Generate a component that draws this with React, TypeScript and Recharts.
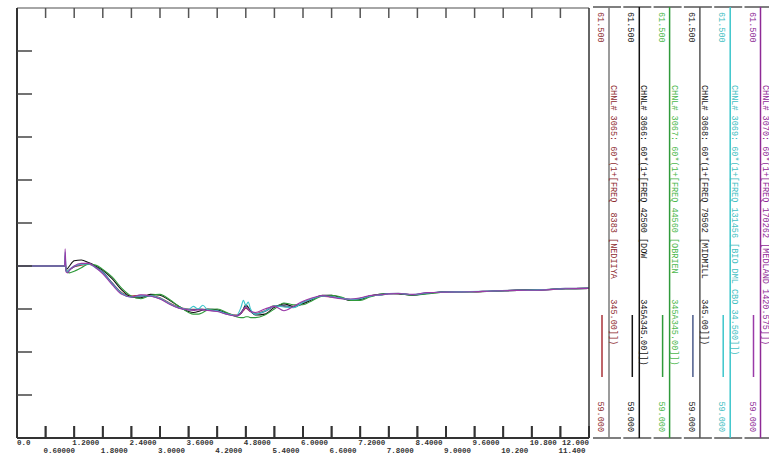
import React from 'react';
import { ComposedChart, Line, Scatter, XAxis, YAxis, ReferenceLine } from 'recharts';

// time (s)
const TIME = [
  0, 1.0, 1.01, 1.03, 1.06, 1.1,
  1.2, 1.35, 1.5, 1.65, 1.8,
  2.0, 2.2, 2.4, 2.6, 2.8,
  3.0, 3.2, 3.4, 3.6, 3.7,
  3.8, 3.9, 4.0, 4.2, 4.4,
  4.6, 4.7, 4.75, 4.8, 4.85,
  4.9, 5.0, 5.2, 5.4, 5.6,
  5.8, 6.0, 6.2, 6.4, 6.6,
  6.8, 7.0, 7.2, 7.4, 7.6,
  7.8, 8.0, 8.3, 8.6, 9.0,
  9.5, 10.0, 10.5, 11.0, 11.5,
  12.0,
];

// bus frequencies (Hz)
const CH3065 = [
  60.0, 60.0, 60.03, 59.975, 59.97, 59.98,
  59.995, 60.005, 60.01, 59.995, 59.96,
  59.9, 59.845, 59.825, 59.83, 59.83,
  59.815, 59.785, 59.76, 59.75, 59.748,
  59.748, 59.748, 59.745, 59.74, 59.725,
  59.715, 59.725, 59.74, 59.755, 59.745,
  59.735, 59.725, 59.74, 59.77, 59.765,
  59.76, 59.785, 59.81, 59.825, 59.82,
  59.815, 59.805, 59.81, 59.825, 59.83,
  59.838, 59.84, 59.833, 59.843, 59.848,
  59.85, 59.855, 59.858, 59.86, 59.868,
  59.87,
];
const CH3066 = [
  60.0, 60.0, 60.02, 59.98, 59.985, 60.0,
  60.03, 60.035, 60.02, 60.0, 59.975,
  59.925, 59.86, 59.82, 59.815, 59.835,
  59.83, 59.8, 59.765, 59.735, 59.73,
  59.735, 59.745, 59.75, 59.745, 59.725,
  59.71, 59.725, 59.75, 59.775, 59.76,
  59.74, 59.715, 59.72, 59.76, 59.78,
  59.765, 59.78, 59.805, 59.83, 59.83,
  59.815, 59.8, 59.805, 59.825, 59.835,
  59.84, 59.838, 59.83, 59.84, 59.85,
  59.85, 59.853, 59.86, 59.862, 59.868,
  59.87,
];
const CH3067 = [
  60.0, 60.0, 60.01, 59.975, 59.965, 59.96,
  59.97, 59.99, 60.01, 60.005, 59.98,
  59.935, 59.87, 59.825, 59.81, 59.83,
  59.835, 59.805, 59.765, 59.73, 59.72,
  59.72, 59.73, 59.745, 59.75, 59.73,
  59.705, 59.7, 59.7, 59.705, 59.705,
  59.7, 59.7, 59.715, 59.75, 59.785,
  59.775, 59.775, 59.8, 59.825, 59.83,
  59.82, 59.8, 59.8, 59.82, 59.835,
  59.84, 59.84, 59.83, 59.838, 59.848,
  59.85, 59.853, 59.858, 59.862, 59.868,
  59.87,
];
const CH3068 = [
  60.0, 60.0, 60.06, 59.97, 59.965, 59.975,
  59.995, 60.01, 60.015, 59.995, 59.965,
  59.9, 59.84, 59.82, 59.825, 59.825,
  59.81, 59.78, 59.755, 59.745, 59.745,
  59.75, 59.748, 59.743, 59.738, 59.72,
  59.71, 59.73, 59.75, 59.765, 59.75,
  59.735, 59.72, 59.735, 59.765, 59.77,
  59.76, 59.79, 59.81, 59.828, 59.822,
  59.812, 59.805, 59.812, 59.825, 59.832,
  59.84, 59.842, 59.832, 59.842, 59.85,
  59.85, 59.856, 59.86, 59.862, 59.87,
  59.872,
];
const CH3069 = [
  60.0, 60.0, 60.08, 59.97, 59.97, 59.98,
  60.0, 60.01, 60.012, 59.99, 59.96,
  59.895, 59.84, 59.82, 59.828, 59.828,
  59.812, 59.782, 59.758, 59.748, 59.765,
  59.75, 59.772, 59.745, 59.74, 59.722,
  59.712, 59.76, 59.8, 59.77, 59.79,
  59.75, 59.72, 59.738, 59.768, 59.762,
  59.758, 59.788, 59.81, 59.826, 59.82,
  59.814, 59.806, 59.81, 59.825, 59.83,
  59.838, 59.84, 59.834, 59.844, 59.848,
  59.851, 59.855, 59.858, 59.861, 59.868,
  59.87,
];
const CH3070 = [
  60.0, 60.0, 60.1, 59.965, 59.96, 59.975,
  60.0, 60.015, 60.015, 59.99, 59.955,
  59.89, 59.835, 59.82, 59.832, 59.826,
  59.808, 59.778, 59.755, 59.745, 59.742,
  59.745, 59.745, 59.742, 59.735, 59.72,
  59.71, 59.725, 59.745, 59.76, 59.748,
  59.735, 59.73, 59.75, 59.765, 59.74,
  59.765, 59.795, 59.815, 59.828, 59.818,
  59.81, 59.808, 59.815, 59.828, 59.832,
  59.838, 59.84, 59.835, 59.845, 59.848,
  59.85, 59.855, 59.858, 59.86, 59.868,
  59.87,
];

const X_TICKS = [0, 0.6, 1.2, 1.8, 2.4, 3.0, 3.6, 4.2, 4.8, 5.4, 6.0, 6.6, 7.2, 7.8, 8.4, 9.0, 9.6, 10.2, 10.8, 11.4, 12.0];
const X_LABELS = ['0.0', '0.60000', '1.2000', '1.8000', '2.4000', '3.0000', '3.6000', '4.2000', '4.8000', '5.4000', '6.0000', '6.6000', '7.2000', '7.8000', '8.4000', '9.0000', '9.6000', '10.200', '10.800', '11.400', '12.000'];
const Y_TICKS = [59.0, 59.25, 59.5, 59.75, 60.0, 60.25, 60.5, 60.75, 61.0, 61.25, 61.5];
const Y_MAX_LABEL = '61.500';
const Y_MIN_LABEL = '59.000';

const CHANNELS = [
  { key: 'c3065', values: CH3065, color: '#a83238', text: '#8e2b30', axis: '#7a7a7a', label: 'CHNL# 3065: 60*(1+[FREQ  8383 [NEDIIYA    345.00]])' },
  { key: 'c3066', values: CH3066, color: '#111111', text: '#111111', axis: '#111111', label: 'CHNL# 3066: 60*(1+[FREQ 42500 [DOW        345A345.00]])' },
  { key: 'c3067', values: CH3067, color: '#2f9a3a', text: '#4cb84c', axis: '#2f9a3a', label: 'CHNL# 3067: 60*(1+[FREQ 44560 [OBRIEN     345A345.00]])' },
  { key: 'c3068', values: CH3068, color: '#4a5a8a', text: '#222222', axis: '#555555', label: 'CHNL# 3068: 60*(1+[FREQ 79502 [MIDMILL    345.00]])' },
  { key: 'c3069', values: CH3069, color: '#3cc6cc', text: '#45c0c4', axis: '#3cc6cc', label: 'CHNL# 3069: 60*(1+[FREQ 131456 [BIO DML CBO 34.500]])' },
  { key: 'c3070', values: CH3070, color: '#9a3aa8', text: '#8e2a96', axis: '#8e2a96', label: 'CHNL# 3070: 60*(1+[FREQ 170262 [MEDLAND 1420.575]])' },
];

const rows = TIME.map((t, i) => {
  const row: Record<string, number> = { t };
  CHANNELS.forEach((c) => { row[c.key] = c.values[i]; });
  return row;
});

// tick marks on the bottom and top frame, placed at the x tick values
const INNER_X = X_TICKS.slice(1, -1);
const bottomMarks = INNER_X.map((t) => ({ t, f: Y_TICKS[0] }));
const topMarks = INNER_X.map((t) => ({ t, f: Y_TICKS[Y_TICKS.length - 1] }));

const MONO = '"Liberation Mono", "DejaVu Sans Mono", monospace';

// labels in two staggered rows under the inward tick marks
const BottomTick = (props: any) => {
  const { x, y, index } = props;
  const last = X_TICKS.length - 1;
  return (
    <text
      x={index === 0 ? x : index === last ? x : x - 2}
      y={index % 2 === 0 ? y + 7 : y + 15}
      textAnchor={index === last ? 'end' : 'start'}
      fontFamily={MONO}
      fontSize={7.5}
      fontWeight="bold"
      fill="#333"
    >
      {X_LABELS[index]}
    </text>
  );
};

const LeftTick = (props: any) => {
  const { x, y, index } = props;
  if (index === 0 || index === Y_TICKS.length - 1) return <g />;
  return <line x1={x} y1={y} x2={x + 15} y2={y} stroke="#444" strokeWidth={1.5} />;
};

const RightTick = (props: any) => {
  const { x, y, index } = props;
  if (index === 0 || index === Y_TICKS.length - 1) return <g />;
  return <line x1={x} y1={y} x2={x - 16} y2={y} stroke="#444" strokeWidth={1.5} />;
};

const UpMark = (p: any) => <line x1={p.cx} y1={p.cy} x2={p.cx} y2={p.cy - 12} stroke="#333" strokeWidth={1.5} />;
const DownMark = (p: any) => <line x1={p.cx} y1={p.cy} x2={p.cx} y2={p.cy + 10} stroke="#555" strokeWidth={1.5} />;

// channel panel to the right of the plot; inner coordinates are page x minus 590
const ChannelLegend = () => (
  <svg width={179} height={455} style={{ position: 'absolute', left: 590, top: 0 }}>
    <g transform="translate(-590 0)">
      {CHANNELS.map((c, i) => {
        const lx = 609 + i * 30.3;
        return (
          <g key={c.key}>
            <line x1={lx - 16} y1={7} x2={lx + 12} y2={7} stroke="#555" strokeWidth={1.5} />
            <line x1={lx - 16} y1={438} x2={lx + 12} y2={438} stroke="#555" strokeWidth={1.5} />
            <line x1={lx} y1={7} x2={lx} y2={438} stroke={c.axis} strokeWidth={1.5} />
            <text x={lx - 11} y={12} transform={`rotate(90 ${lx - 11} 12)`} fontFamily={MONO} fontSize={8.5} fill={c.text}>
              {Y_MAX_LABEL}
            </text>
            <text x={lx + 2} y={85} transform={`rotate(90 ${lx + 2} 85)`} fontFamily={MONO} fontSize={8.5} fill={c.text} style={{ whiteSpace: 'pre' }}>
              {c.label}
            </text>
            <text x={lx - 11} y={432} transform={`rotate(90 ${lx - 11} 432)`} textAnchor="end" fontFamily={MONO} fontSize={8.5} fill={c.text}>
              {Y_MIN_LABEL}
            </text>
            <line x1={lx - 7} y1={315} x2={lx - 7} y2={377} stroke={c.color} strokeWidth={1.5} />
          </g>
        );
      })}
    </g>
  </svg>
);

export default function App() {
  return (
    <div style={{ position: 'absolute', left: 0, top: 0, width: 769, height: 455, background: '#fff' }}>
      <ComposedChart width={590} height={455} data={rows} margin={{ top: 8, right: 0, bottom: 0, left: 0 }}>
        <XAxis
          dataKey="t"
          type="number"
          domain={[0, 12]}
          ticks={X_TICKS}
          interval={0}
          height={17}
          tickSize={-12}
          tickMargin={12}
          tickLine={{ stroke: '#333', strokeWidth: 2 }}
          tick={<BottomTick />}
          axisLine={{ stroke: '#333', strokeWidth: 2 }}
        />
        <YAxis
          yAxisId="left"
          type="number"
          domain={[59, 61.5]}
          ticks={Y_TICKS}
          interval={0}
          width={17}
          tickSize={0}
          tickMargin={0}
          tickLine={false}
          tick={<LeftTick />}
          axisLine={{ stroke: '#333', strokeWidth: 2 }}
        />
        <YAxis
          yAxisId="right"
          orientation="right"
          type="number"
          domain={[59, 61.5]}
          ticks={Y_TICKS}
          interval={0}
          width={1}
          tickSize={0}
          tickMargin={0}
          tickLine={false}
          tick={<RightTick />}
          axisLine={{ stroke: '#333', strokeWidth: 1.5 }}
        />
        <ReferenceLine yAxisId="left" y={61.5} stroke="#888" strokeWidth={1.5} ifOverflow="visible" />
        <Scatter yAxisId="left" data={bottomMarks} dataKey="f" shape={<UpMark />} isAnimationActive={false} />
        <Scatter yAxisId="left" data={topMarks} dataKey="f" shape={<DownMark />} isAnimationActive={false} />
        {CHANNELS.map((c) => (
          <Line
            key={c.key}
            yAxisId="left"
            dataKey={c.key}
            type="monotone"
            stroke={c.color}
            strokeWidth={1.1}
            dot={false}
            isAnimationActive={false}
          />
        ))}
      </ComposedChart>
      <ChannelLegend />
    </div>
  );
}
